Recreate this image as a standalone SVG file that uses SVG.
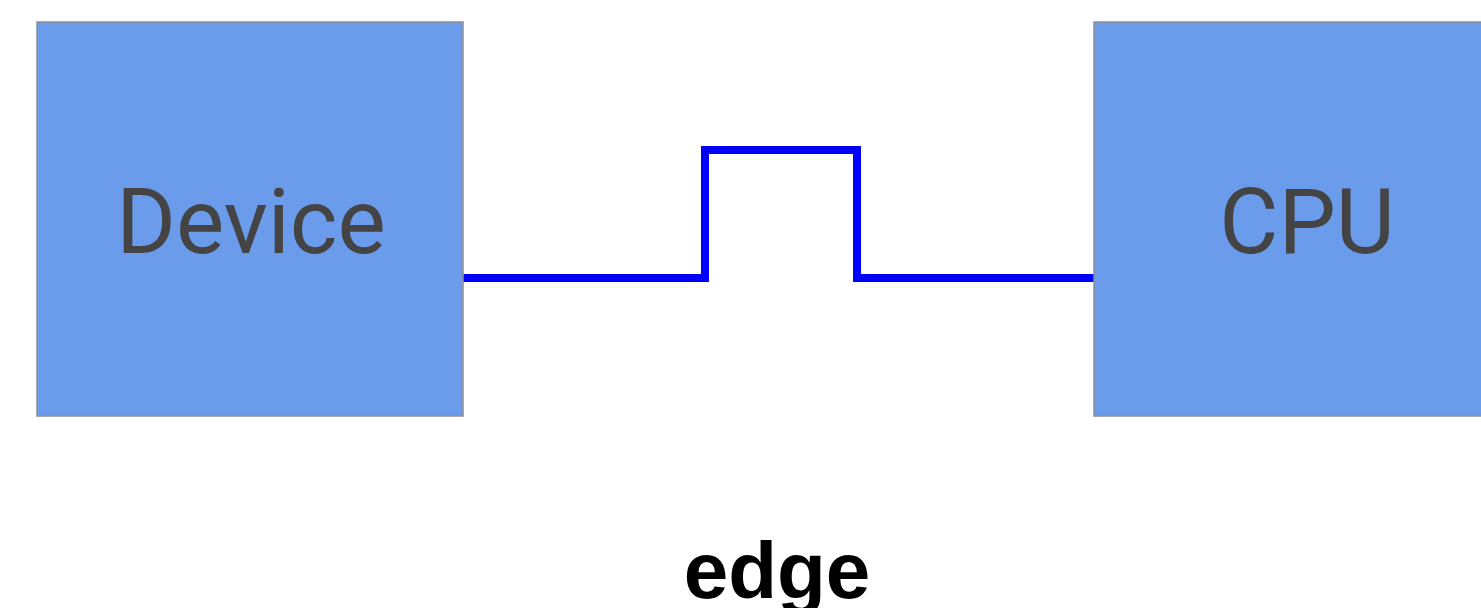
<svg xmlns="http://www.w3.org/2000/svg" width="1481" height="608" viewBox="0 0 1481 608">
<style>
.box{fill:#6b9beb;stroke:#8a8f98;stroke-width:1.5}
.lbl{font-family:Roboto,"Liberation Sans",sans-serif;font-size:91px;fill:#444;text-anchor:middle}
.wire{fill:none;stroke:#0000ff;stroke-width:8;stroke-linejoin:miter}
.cap{font-family:"Liberation Sans",Arial,sans-serif;font-weight:bold;font-size:80px;fill:#000;text-anchor:middle}
</style>
<rect width="1481" height="608" fill="#fff"/>
<g id="connectors">
<path class="wire" d="M463 278 H705 V150 H857 V278 H1097"/>
</g>
<g id="device">
<rect class="box" x="37" y="22" width="426" height="394"/>
<text class="lbl" x="251" y="253">Device</text>
</g>
<g id="cpu">
<rect class="box" x="1094" y="22" width="426" height="394"/>
<text class="lbl" x="1307" y="253">CPU</text>
</g>
<text class="cap" x="777" y="598">edge</text>
</svg>
